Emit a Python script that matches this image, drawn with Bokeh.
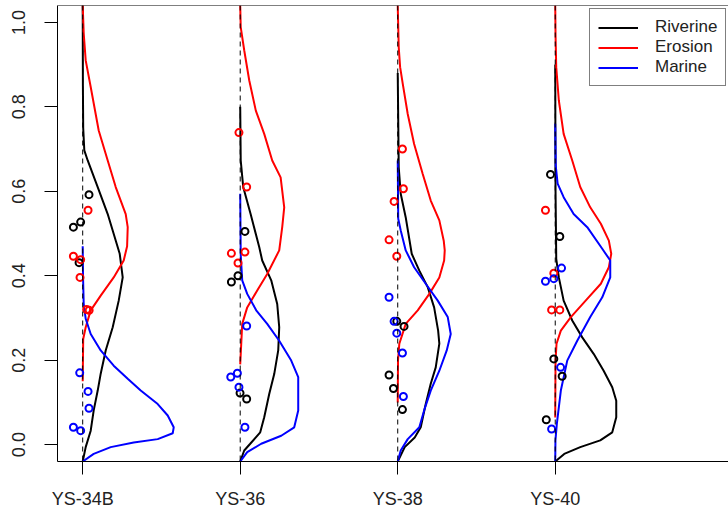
from bokeh.plotting import figure
from bokeh.models import Range1d, FixedTicker, Span, Legend, LegendItem, PrintfTickFormatter
from bokeh.embed import file_html
from bokeh.resources import INLINE

# ---------------- data ----------------
sites = ["YS-34B", "YS-36", "YS-38", "YS-40"]
site_x = [1, 2, 3, 4]
sources = ["Riverine", "Erosion", "Marine"]
source_colors = ["#000000", "#ff0000", "#0000ff"]
y_ticks = [0.0, 0.2, 0.4, 0.6, 0.8, 1.0]

# density curves (y value, density) per site and source
s1_riv_y = [-0.04, -0.006, 0.033, 0.081, 0.128, 0.168, 0.223, 0.278, 0.341, 0.396, 0.452, 0.546, 0.610, 0.673, 0.697, 0.75, 0.85, 1.04]
s1_riv_d = [0, 0.15, 0.4, 0.55, 0.75, 0.9, 1.15, 1.5, 1.8, 2.0, 1.85, 1.25, 0.75, 0.25, 0.08, 0.025, 0.01, 0]
s1_ero_y = [0.15, 0.25, 0.278, 0.318, 0.353, 0.396, 0.436, 0.47, 0.515, 0.546, 0.610, 0.673, 0.744, 0.847, 0.910, 0.974, 1.04]
s1_ero_d = [0, 0.025, 0.15, 0.4, 0.9, 1.55, 2.05, 2.22, 2.25, 2.15, 1.65, 1.25, 0.8, 0.4, 0.15, 0.05, 0]
s1_mar_y = [-0.04, -0.022, -0.006, 0.005, 0.013, 0.027, 0.041, 0.069, 0.096, 0.128, 0.156, 0.187, 0.223, 0.262, 0.298, 0.334, 0.40, 0.47]
s1_mar_d = [0, 0.55, 1.4, 2.55, 3.75, 4.5, 4.55, 4.25, 3.75, 2.9, 2.25, 1.55, 0.9, 0.4, 0.15, 0.05, 0.015, 0]

s2_riv_y = [-0.04, -0.014, 0.002, 0.029, 0.065, 0.120, 0.167, 0.223, 0.278, 0.333, 0.389, 0.436, 0.468, 0.546, 0.610, 0.673, 0.80]
s2_riv_d = [0, 0.2, 0.5, 1.0, 1.2, 1.45, 1.7, 1.9, 1.95, 1.85, 1.55, 1.1, 0.95, 0.52, 0.15, 0.025, 0]
s2_ero_y = [0.19, 0.286, 0.325, 0.365, 0.404, 0.460, 0.515, 0.562, 0.633, 0.673, 0.736, 0.791, 0.863, 0.934, 0.989, 1.04]
s2_ero_d = [0, 0.1, 0.35, 0.85, 1.35, 1.95, 2.1, 2.2, 2.02, 1.6, 1.2, 0.78, 0.45, 0.2, 0.025, 0]
s2_mar_y = [-0.04, -0.018, 0.002, 0.021, 0.041, 0.081, 0.160, 0.199, 0.246, 0.286, 0.318, 0.357, 0.389, 0.45, 0.594]
s2_mar_d = [0, 0.35, 1.05, 2.05, 2.7, 2.9, 2.9, 2.55, 1.95, 1.35, 0.8, 0.35, 0.1, 0.025, 0]

s3_riv_y = [-0.04, -0.006, 0.017, 0.041, 0.096, 0.144, 0.183, 0.239, 0.270, 0.325, 0.373, 0.412, 0.452, 0.538, 0.594, 0.657, 0.88]
s3_riv_d = [0, 0.35, 0.85, 1.15, 1.4, 1.65, 1.9, 2.08, 2.02, 1.82, 1.5, 1.08, 0.7, 0.4, 0.15, 0.05, 0]
s3_ero_y = [0.10, 0.20, 0.239, 0.286, 0.318, 0.357, 0.396, 0.436, 0.460, 0.483, 0.531, 0.578, 0.641, 0.712, 0.783, 0.855, 0.894, 0.941, 1.04]
s3_ero_d = [0, 0.015, 0.08, 0.4, 1.0, 1.58, 2.08, 2.32, 2.35, 2.3, 2.08, 1.65, 1.25, 0.82, 0.5, 0.25, 0.12, 0.05, 0]
s3_mar_y = [-0.04, -0.014, 0.013, 0.041, 0.081, 0.128, 0.175, 0.223, 0.262, 0.302, 0.341, 0.381, 0.420, 0.460, 0.507, 0.535, 0.673]
s3_mar_d = [0, 0.15, 0.5, 1.08, 1.32, 1.65, 2.08, 2.45, 2.65, 2.5, 2.0, 1.4, 0.82, 0.4, 0.15, 0.025, 0]

s4_riv_y = [-0.04, -0.022, -0.006, 0.010, 0.029, 0.065, 0.104, 0.136, 0.175, 0.215, 0.254, 0.294, 0.341, 0.396, 0.44, 0.60, 0.90]
s4_riv_d = [0, 0.45, 1.25, 2.25, 2.85, 3.05, 3.05, 2.85, 2.42, 1.92, 1.35, 0.85, 0.42, 0.18, 0.05, 0.015, 0]
s4_ero_y = [0.064, 0.20, 0.239, 0.270, 0.302, 0.341, 0.381, 0.420, 0.452, 0.483, 0.523, 0.562, 0.610, 0.673, 0.736, 0.815, 0.894, 0.97, 1.04]
s4_ero_d = [0, 0.015, 0.065, 0.28, 0.78, 1.52, 2.28, 2.68, 2.8, 2.68, 2.28, 1.75, 1.25, 0.85, 0.42, 0.18, 0.05, 0.015, 0]
s4_mar_y = [-0.04, 0.010, 0.049, 0.128, 0.199, 0.246, 0.302, 0.349, 0.396, 0.436, 0.464, 0.515, 0.546, 0.586, 0.618, 0.66, 0.76]
s4_mar_d = [0, 0.01, 0.08, 0.28, 0.6, 1.1, 1.75, 2.35, 2.75, 2.75, 2.35, 1.6, 0.92, 0.42, 0.12, 0.025, 0]

# observed samples (y value, horizontal jitter) per site and source
s1_riv_obs = [0.515, 0.527, 0.592, 0.431]
s1_riv_jit = [-0.059, -0.013, 0.040, -0.023]
s1_ero_obs = [0.555, 0.446, 0.438, 0.396, 0.320, 0.318]
s1_ero_jit = [0.034, -0.059, -0.013, -0.017, 0.025, 0.041]
s1_mar_obs = [0.170, 0.126, 0.086, 0.041, 0.033]
s1_mar_jit = [-0.019, 0.034, 0.040, -0.059, -0.013]

s2_riv_obs = [0.505, 0.400, 0.385, 0.122, 0.108]
s2_riv_jit = [0.030, -0.014, -0.056, -0.001, 0.041]
s2_ero_obs = [0.739, 0.610, 0.453, 0.456, 0.430]
s2_ero_jit = [-0.008, 0.041, -0.056, 0.030, -0.014]
s2_mar_obs = [0.281, 0.169, 0.160, 0.136, 0.041]
s2_mar_jit = [0.041, -0.018, -0.060, -0.008, 0.030]

s3_riv_obs = [0.292, 0.280, 0.165, 0.133, 0.083]
s3_riv_jit = [-0.006, 0.040, -0.055, -0.027, 0.030]
s3_ero_obs = [0.700, 0.606, 0.576, 0.485, 0.446]
s3_ero_jit = [0.030, 0.036, -0.023, -0.055, -0.006]
s3_mar_obs = [0.349, 0.292, 0.264, 0.217, 0.114]
s3_mar_jit = [-0.055, -0.023, -0.006, 0.030, 0.036]

s4_riv_obs = [0.640, 0.493, 0.203, 0.162, 0.059]
s4_riv_jit = [-0.030, 0.029, -0.009, 0.044, -0.057]
s4_ero_obs = [0.555, 0.406, 0.319, 0.319]
s4_ero_jit = [-0.062, -0.009, -0.023, 0.029]
s4_mar_obs = [0.418, 0.387, 0.393, 0.183, 0.037]
s4_mar_jit = [0.040, -0.062, -0.009, 0.034, -0.023]

# ---------------- assembly ----------------
curves = [
    [(s1_riv_y, s1_riv_d), (s1_ero_y, s1_ero_d), (s1_mar_y, s1_mar_d)],
    [(s2_riv_y, s2_riv_d), (s2_ero_y, s2_ero_d), (s2_mar_y, s2_mar_d)],
    [(s3_riv_y, s3_riv_d), (s3_ero_y, s3_ero_d), (s3_mar_y, s3_mar_d)],
    [(s4_riv_y, s4_riv_d), (s4_ero_y, s4_ero_d), (s4_mar_y, s4_mar_d)],
]
observations = [
    [(s1_riv_obs, s1_riv_jit), (s1_ero_obs, s1_ero_jit), (s1_mar_obs, s1_mar_jit)],
    [(s2_riv_obs, s2_riv_jit), (s2_ero_obs, s2_ero_jit), (s2_mar_obs, s2_mar_jit)],
    [(s3_riv_obs, s3_riv_jit), (s3_ero_obs, s3_ero_jit), (s3_mar_obs, s3_mar_jit)],
    [(s4_riv_obs, s4_riv_jit), (s4_ero_obs, s4_ero_jit), (s4_mar_obs, s4_mar_jit)],
]

DENS_WIDTH = 0.127  # x units per unit of density
FONT = "Liberation Sans"
Y_TOP = 1.04

p = figure(width=728, height=515, output_backend="svg", toolbar_location=None,
           x_range=Range1d(0.84, 5.10), y_range=Range1d(-0.04, Y_TOP),
           min_border_left=57, min_border_right=0, min_border_top=5, min_border_bottom=54)
p.outline_line_color = None
p.xgrid.visible = False
p.ygrid.visible = False
p.background_fill_color = "white"

p.add_layout(Span(location=Y_TOP, dimension="width", line_color="black", line_width=1))

for xs in site_x:
    p.add_layout(Span(location=xs, dimension="height", line_color="black",
                      line_width=1, line_dash="5 4"))

legend_renderers = [None, None, None]
for si, xs in enumerate(site_x):
    for k in range(3):
        yv, dv = curves[si][k]
        r = p.line([xs + d * DENS_WIDTH for d in dv], yv, line_color=source_colors[k], line_width=2)
        if legend_renderers[k] is None:
            legend_renderers[k] = r

for si, xs in enumerate(site_x):
    for k in range(3):
        ov, jv = observations[si][k]
        p.scatter([xs + j for j in jv], ov, marker="circle", size=7, fill_color=None,
                  line_color=source_colors[k], line_width=2)

# axes
xa = p.xaxis[0]
xa.ticker = FixedTicker(ticks=site_x)
xa.major_label_overrides = {x: s for x, s in zip(site_x, sites)}
xa.minor_tick_line_color = None
xa.major_tick_in = 0
xa.major_tick_out = 13
xa.major_label_standoff = 14
xa.major_label_text_font = FONT
xa.major_label_text_font_size = "18px"
xa.major_label_text_color = "#222222"
xa.axis_line_color = "black"

ya = p.yaxis[0]
ya.ticker = FixedTicker(ticks=y_ticks)
ya.formatter = PrintfTickFormatter(format="%.1f")
ya.minor_tick_line_color = None
ya.major_tick_in = 0
ya.major_tick_out = 13
ya.major_label_standoff = 19
ya.major_label_orientation = "vertical"
ya.major_label_text_font = FONT
ya.major_label_text_font_size = "18px"
ya.major_label_text_color = "#222222"
ya.axis_line_color = "black"

legend = Legend(items=[LegendItem(label=s, renderers=[legend_renderers[k]]) for k, s in enumerate(sources)],
                location=(532, 375), padding=8, spacing=0, margin=0,
                glyph_width=40, glyph_height=19, label_height=19, label_standoff=17,
                label_text_font=FONT, label_text_font_size="17px", label_text_color="#222222",
                border_line_color="black", border_line_width=1, background_fill_color="white",
                background_fill_alpha=1.0)
p.add_layout(legend)

open("out.html", "w").write(file_html(p, INLINE))
